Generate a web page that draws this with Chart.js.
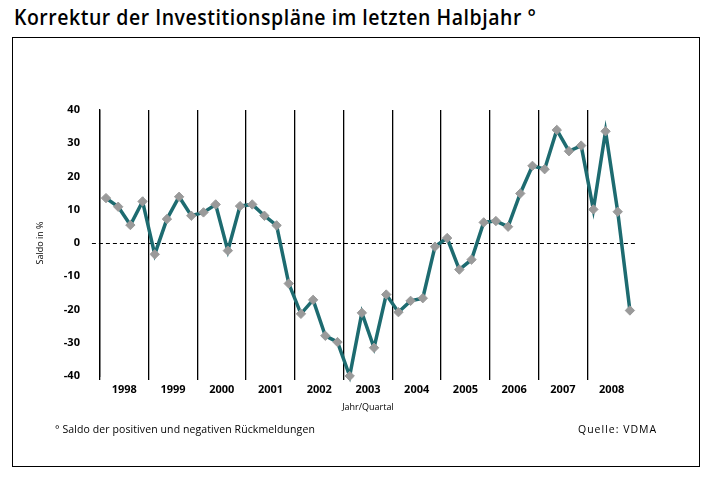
<!DOCTYPE html>
<html><head><meta charset="utf-8">
<script src="https://cdn.jsdelivr.net/npm/chart.js@4"></script>
<style>
body{margin:0;width:713px;height:477px;background:#fff;position:relative;overflow:hidden;font-family:"Open Sans",sans-serif;}
#title{position:absolute;left:14px;top:1px;font-size:22px;font-weight:600;color:#000;letter-spacing:0.6px;white-space:nowrap;transform:scaleX(0.885);transform-origin:left top;}
#box{position:absolute;left:12px;top:37px;width:686px;height:428px;border:1px solid #000;}
#wrap{position:absolute;left:0;top:0;width:713px;height:477px;}
#note{position:absolute;left:55px;top:422px;font-size:10.5px;color:#000;letter-spacing:0.1px;}
#src{position:absolute;left:578px;top:422px;font-size:10.5px;color:#000;letter-spacing:1px;}
</style></head>
<body>
<div id="title">Korrektur der Investitionspläne im letzten Halbjahr °</div>
<div id="box"></div>
<div id="wrap"><canvas id="c" width="713" height="477"></canvas></div>
<div id="note">° Saldo der positiven und negativen Rückmeldungen</div>
<div id="src">Quelle: VDMA</div>
<script>
const years = ['1998','1999','2000','2001','2002','2003','2004','2005','2006','2007','2008'];
const quarters = ['Q1','Q2','Q3','Q4'];
const saldo = [
  13.5, 10.9, 5.4, 12.5,
  -3.4, 7.2, 13.9, 8.2,
  9.2, 11.6, -2.3, 11.1,
  11.6, 8.2, 5.3, -12.2,
  -21.3, -17.1, -27.9, -29.8,
  -40, -21, -31.5, -15.5,
  -20.8, -17.4, -16.6, -1.1,
  1.5, -8.0, -5.0, 6.2,
  6.6, 4.9, 14.9, 23.2,
  22.2, 34.0, 27.6, 29.3,
  10.1, 33.6, 9.4, -20.3
];
const yTicks = {min: -40, max: 40, step: 10};

const labels = [];
years.forEach(y => quarters.forEach(q => labels.push(y + ' ' + q)));

const zeroLine = {
  id: 'zeroLine',
  beforeDatasetsDraw(chart) {
    const {ctx, chartArea: a, scales: {y}} = chart;
    const py = Math.round(y.getPixelForValue(0)) + 0.5;
    ctx.save();
    ctx.setLineDash([4, 3]);
    ctx.strokeStyle = '#000';
    ctx.lineWidth = 1;
    ctx.beginPath();
    ctx.moveTo(a.left - 8, py);
    ctx.lineTo(a.right, py);
    ctx.stroke();
    ctx.restore();
  }
};

new Chart(document.getElementById('c'), {
  type: 'line',
  data: {
    labels: labels,
    datasets: [{
      data: saldo,
      borderColor: '#1d6b70',
      borderWidth: 3.5,
      tension: 0,
      pointStyle: 'rectRot',
      pointRadius: 4.7,
      pointBackgroundColor: '#9a9a9a',
      pointBorderColor: '#9a9a9a',
      pointBorderWidth: 1,
      clip: false
    }]
  },
  options: {
    responsive: false,
    animation: false,
    layout: {padding: {left: 35, right: 77, top: 110, bottom: 64}},
    plugins: {legend: {display: false}, tooltip: {enabled: false}},
    scales: {
      x: {
        type: 'category',
        offset: true,
        grid: {
          offset: true,
          color: ctx => (ctx.index % 4 === 0) ? '#000' : 'rgba(0,0,0,0)',
          lineWidth: 1.3,
          tickLength: 4,
          drawTicks: true
        },
        border: {display: false},
        ticks: {display: false, autoSkip: false},
        afterFit: s => { s.height = 4; }
      },
      x2: {
        type: 'category',
        labels: years,
        offset: true,
        position: 'bottom',
        grid: {display: false, drawTicks: false},
        border: {display: false},
        ticks: {color: '#000', font: {family: 'Open Sans', size: 11, weight: 'bold'}, padding: 3},
        title: {display: true, text: 'Jahr/Quartal', color: '#000', font: {family: 'Open Sans', size: 9}, padding: {top: 3, bottom: 0}}
      },
      y: {
        min: yTicks.min, max: yTicks.max,
        ticks: {stepSize: yTicks.step, color: '#000', font: {family: 'Open Sans', size: 11, weight: 'bold'}, padding: 12},
        grid: {display: false},
        border: {display: true, color: '#000', width: 1.3},
        title: {display: true, text: 'Saldo in %', color: '#000', font: {family: 'Open Sans', size: 9}, padding: {top: 0, bottom: 6}}
      }
    }
  },
  plugins: [zeroLine]
});
</script>
</body></html>
